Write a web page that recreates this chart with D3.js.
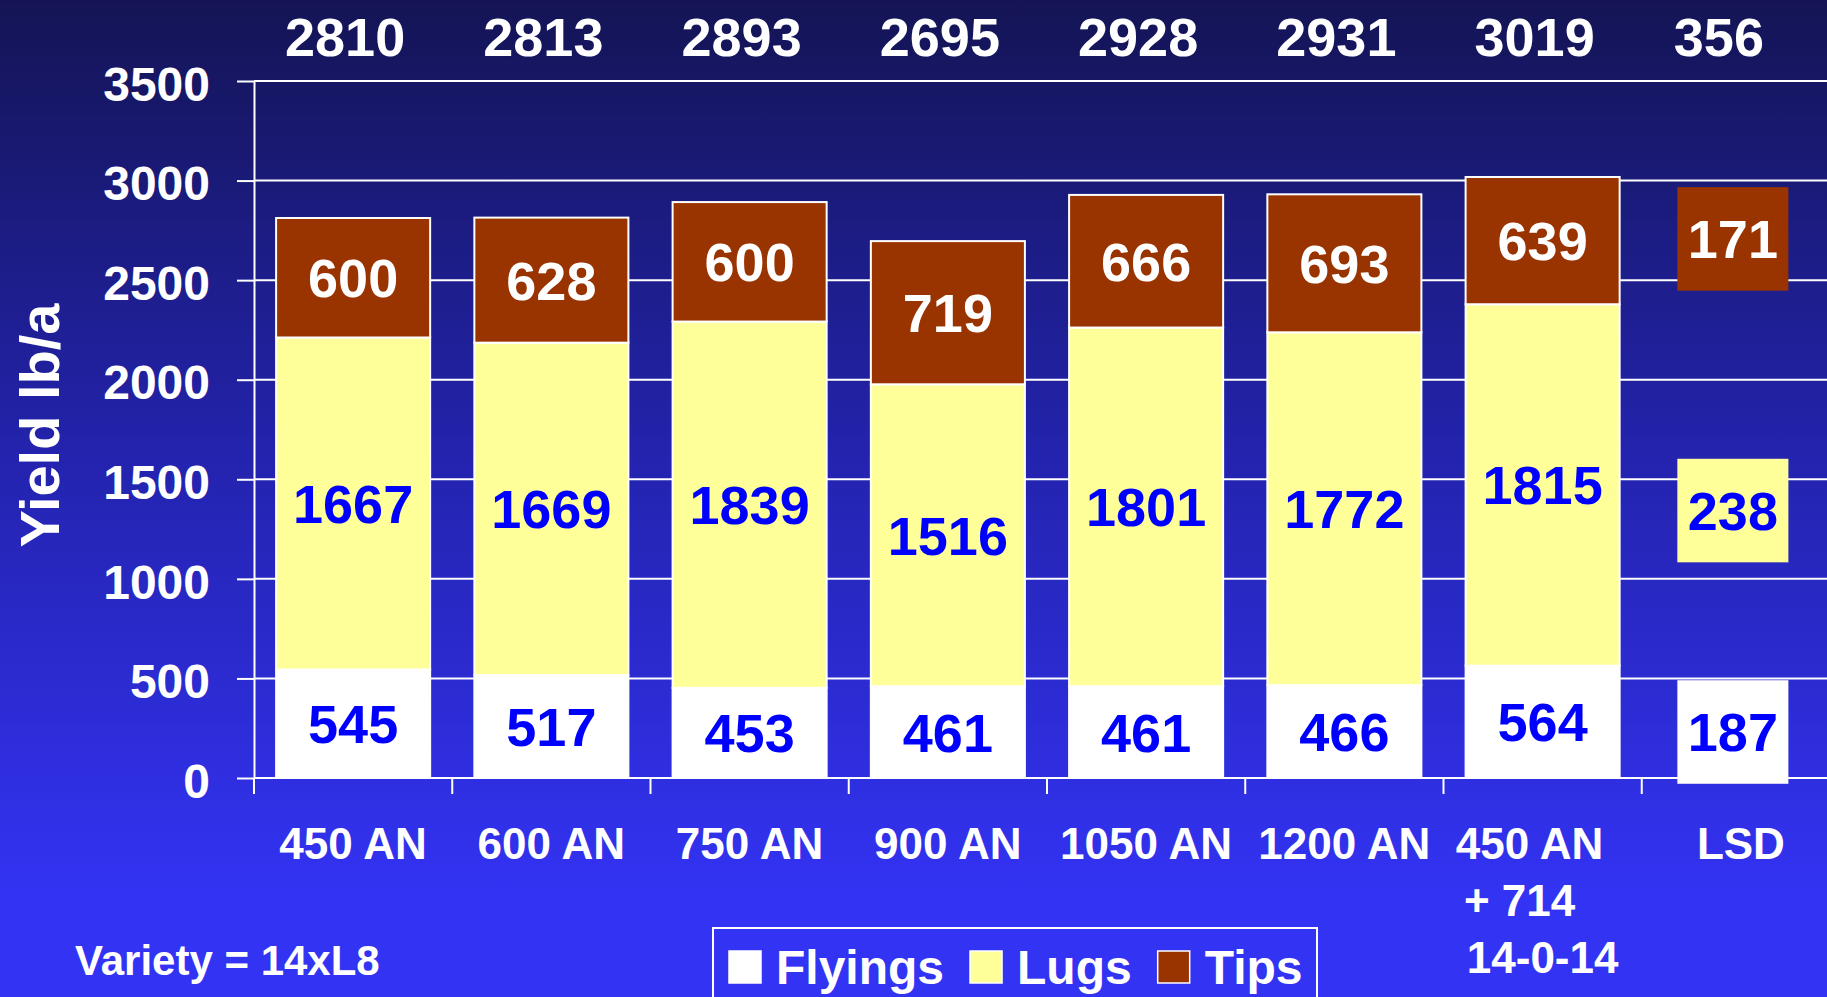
<!DOCTYPE html>
<html>
<head>
<meta charset="utf-8">
<script src="https://cdn.jsdelivr.net/npm/d3@7"></script>
<style>
    html, body { margin: 0; padding: 0; overflow: hidden; background: #2424b0; }
    svg { display: block; font-family: "Liberation Sans", Arial, Helvetica, sans-serif; font-weight: bold; }
</style>
</head>
<body>
<div id="chart"></div>
<script>

// chart data (lb/a)
var categories = ["450 AN", "600 AN", "750 AN", "900 AN", "1050 AN", "1200 AN", "450 AN|+ 714|14-0-14", "LSD"];
var seriesNames = ["Flyings", "Lugs", "Tips"];
var flyings = [545, 517, 453, 461, 461, 466, 564];
var lugs = [1667, 1669, 1839, 1516, 1801, 1772, 1815];
var tips = [600, 628, 600, 719, 666, 693, 639];
var totals = [2810, 2813, 2893, 2695, 2928, 2931, 3019, 356];
var lsdValues = [187, 238, 171];   // Flyings, Lugs, Tips
var yTicks = [0, 500, 1000, 1500, 2000, 2500, 3000, 3500];
var yTitle = "Yield lb/a";
var note = "Variety = 14xL8";

var colors = { Flyings: "#ffffff", Lugs: "#ffff99", Tips: "#993300" };
var labelColors = { Flyings: "#0000ff", Lugs: "#0000ff", Tips: "#ffffff" };

var width = 1827,
    height = 997;

var svg = d3.select("#chart")
    .append("svg")
    .attr("width", width)
    .attr("height", height);

// background gradient, dark navy at the top to bright blue at the bottom
var defs = svg.append("defs");
var grad = defs.append("linearGradient")
    .attr("id", "bg")
    .attr("gradientUnits", "userSpaceOnUse")
    .attr("x1", 0).attr("y1", 0)
    .attr("x2", 0).attr("y2", 900);
grad.append("stop").attr("offset", 0).attr("stop-color", "#141455");
grad.append("stop").attr("offset", 0.5).attr("stop-color", "#2323ad");
grad.append("stop").attr("offset", 1).attr("stop-color", "#3333f4");

svg.append("rect")
    .attr("width", width)
    .attr("height", height)
    .attr("fill", "url(#bg)");

var xScale = d3.scaleBand()
    .domain(categories)
    .range([254, 1840])
    .paddingInner(0.223)
    .paddingOuter(0.1115);

var yScale = d3.scaleLinear()
    .domain([0, 3500])
    .range([778, 81]);

var step = xScale.step();
var bw = xScale.bandwidth();
var x0 = xScale.range()[0];

// gridlines
svg.append("g")
    .selectAll("line")
    .data(yTicks)
    .enter().append("line")
    .attr("x1", x0)
    .attr("x2", width)
    .attr("y1", function (d) { return yScale(d); })
    .attr("y2", function (d) { return yScale(d); })
    .attr("stroke", "#ffffff")
    .attr("stroke-width", 2);

// y axis
var yAxis = svg.append("g")
    .attr("transform", "translate(" + x0 + ",0)")
    .call(d3.axisLeft(yScale)
        .tickValues(yTicks)
        .tickFormat(d3.format("d"))
        .tickSize(17)
        .tickSizeOuter(0)
        .tickPadding(27));
yAxis.select(".domain").attr("stroke", "#ffffff").attr("stroke-width", 2);
yAxis.selectAll(".tick line").attr("stroke", "#ffffff").attr("stroke-width", 2);
yAxis.selectAll(".tick text")
    .attr("fill", "#ffffff")
    .attr("font-size", "48px")
    .attr("font-family", "Liberation Sans, Arial, sans-serif")
    .attr("font-weight", "bold")
    .attr("dy", "0.4em");

// category boundary ticks under the x axis
svg.append("g")
    .selectAll("line")
    .data(categories)
    .enter().append("line")
    .attr("x1", function (d) { return xScale(d) - step * xScale.paddingInner() / 2; })
    .attr("x2", function (d) { return xScale(d) - step * xScale.paddingInner() / 2; })
    .attr("y1", yScale(0))
    .attr("y2", yScale(0) + 16)
    .attr("stroke", "#ffffff")
    .attr("stroke-width", 2);

// stacked bars for the treatments
var rows = flyings.map(function (v, i) {
    return { cat: categories[i], Flyings: v, Lugs: lugs[i], Tips: tips[i] };
});
var stacked = d3.stack().keys(seriesNames)(rows);

var layers = svg.append("g")
    .selectAll("g")
    .data(stacked)
    .enter().append("g");

layers.selectAll("rect")
    .data(function (s) { return s.map(function (d) { d.key = s.key; return d; }); })
    .enter().append("rect")
    .attr("x", function (d) { return xScale(d.data.cat); })
    .attr("y", function (d) { return yScale(d[1]); })
    .attr("width", bw)
    .attr("height", function (d) { return yScale(d[0]) - yScale(d[1]); })
    .attr("fill", function (d) { return colors[d.key]; })
    .attr("stroke", "#ffffff")
    .attr("stroke-width", 2);

layers.selectAll("text")
    .data(function (s) { return s.map(function (d) { d.key = s.key; return d; }); })
    .enter().append("text")
    .attr("x", function (d) { return xScale(d.data.cat) + bw / 2; })
    .attr("y", function (d) { return yScale((d[0] + d[1]) / 2); })
    .attr("dy", "0.36em")
    .attr("text-anchor", "middle")
    .attr("font-size", "54px")
    .attr("fill", function (d) { return labelColors[d.key]; })
    .text(function (d) { return d.data[d.key]; });

// LSD label boxes (floating, not stacked)
var lsdCenters = [231, 1343, 2707];   // layout anchors, in y units
var lsdHalf = 260;
var lsdX = xScale("LSD") + bw / 2 - 8;
var lsdW = step * 0.56;

var lsdG = svg.append("g")
    .selectAll("g")
    .data(lsdValues)
    .enter().append("g");

lsdG.append("rect")
    .attr("x", lsdX - lsdW / 2)
    .attr("y", function (d, i) { return yScale(lsdCenters[i] + lsdHalf); })
    .attr("width", lsdW)
    .attr("height", yScale(0) - yScale(lsdHalf * 2))
    .attr("fill", function (d, i) { return colors[seriesNames[i]]; });

lsdG.append("text")
    .attr("x", lsdX)
    .attr("y", function (d, i) { return yScale(lsdCenters[i]); })
    .attr("dy", "0.36em")
    .attr("text-anchor", "middle")
    .attr("font-size", "54px")
    .attr("fill", function (d, i) { return labelColors[seriesNames[i]]; })
    .text(function (d) { return d; });

// x axis line
svg.append("line")
    .attr("x1", x0)
    .attr("x2", width)
    .attr("y1", yScale(0))
    .attr("y2", yScale(0))
    .attr("stroke", "#ffffff")
    .attr("stroke-width", 2);

// totals above the plot
svg.append("g")
    .selectAll("text")
    .data(totals)
    .enter().append("text")
    .attr("x", function (d, i) {
        var c = categories[i];
        return xScale(c) + bw / 2 - (c === "LSD" ? 22 : 8);
    })
    .attr("y", yScale(3500) - 25)
    .attr("text-anchor", "middle")
    .attr("font-size", "54px")
    .attr("fill", "#ffffff")
    .text(function (d) { return d; });

// category labels
var lineShift = [-13, -23, 0];
var catText = svg.append("g")
    .selectAll("text")
    .data(categories)
    .enter().append("text")
    .attr("x", function (d) { return xScale(d) + bw / 2; })
    .attr("y", yScale(0) + 81)
    .attr("text-anchor", "middle")
    .attr("font-size", "44px")
    .attr("fill", "#ffffff");

catText.selectAll("tspan")
    .data(function (d) { return d.split("|"); })
    .enter().append("tspan")
    .attr("x", function (d, i) {
        var p = d3.select(this.parentNode).datum();
        var multi = p.indexOf("|") >= 0;
        return xScale(p) + bw / 2 + (multi ? lineShift[i] : 0);
    })
    .attr("dy", function (d, i) { return i === 0 ? 0 : 57; })
    .text(function (d) { return d; });

// y axis title
svg.append("text")
    .attr("transform", "translate(59," + ((yScale(0) + yScale(3500)) / 2 - 4) + ") rotate(-90)")
    .attr("text-anchor", "middle")
    .attr("font-size", "56px")
    .attr("fill", "#ffffff")
    .text(yTitle);

// note
svg.append("text")
    .attr("x", 75)
    .attr("y", 975)
    .attr("font-size", "42px")
    .attr("fill", "#ffffff")
    .text(note);

// legend
var legend = svg.append("g");
legend.append("rect")
    .attr("x", 713)
    .attr("y", 928)
    .attr("width", 604)
    .attr("height", 100)
    .attr("fill", "none")
    .attr("stroke", "#ffffff")
    .attr("stroke-width", 2);

var lx = 729;
seriesNames.forEach(function (name) {
    legend.append("rect")
        .attr("x", lx)
        .attr("y", 951)
        .attr("width", 32)
        .attr("height", 32)
        .attr("fill", colors[name])
        .attr("stroke", "#ffffff")
        .attr("stroke-width", 1.5);
    var t = legend.append("text")
        .attr("x", lx + 47)
        .attr("y", 984)
        .attr("font-size", "48px")
        .attr("fill", "#ffffff")
        .text(name);
    lx = lx + 47 + t.node().getComputedTextLength() + 26;
});

</script>
</body>
</html>
